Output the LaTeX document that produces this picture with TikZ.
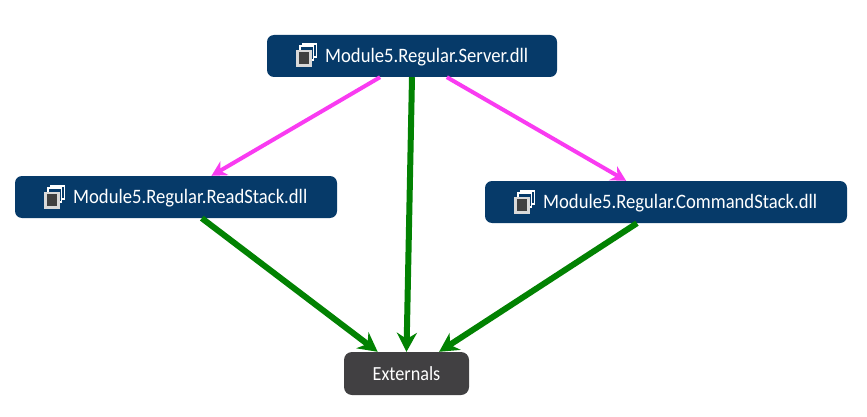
\documentclass[tikz,border=0pt]{standalone}
\usepackage{fontspec}
\setmainfont[FakeStretch=0.91]{Carlito}
\usetikzlibrary{arrows.meta,calc}
\definecolor{dllblue}{HTML}{063A69}
\definecolor{extgrey}{HTML}{414042}
\definecolor{pinkline}{HTML}{F93BF1}
\definecolor{greenline}{HTML}{028202}
\tikzset{
  x=1pt,y=-1pt,
  dll/.style={fill=dllblue,rounded corners=7pt,inner sep=0pt},
  ext/.style={fill=extgrey,rounded corners=8pt,inner sep=0pt,text=white,font=\fontsize{20}{24}\selectfont},
  dlltext/.style={text=white,anchor=west,inner sep=0pt,font=\fontsize{20.5}{24}\selectfont},
  pinkarrow/.style={draw=pinkline,line width=4pt,-{Stealth[length=15pt,width=16pt]}},
  greenarrow/.style={draw=greenline,line width=6pt,-{Stealth[length=19pt,width=20pt]}},
  iconsq/.style={draw=white,fill=dllblue,line width=1.2pt},
}
\newcommand{\dllicon}[2]{%
  \begin{scope}[shift={(#1,#2)}]
    \draw[iconsq] (6,-11) rectangle (19.5,2);
    \draw[iconsq] (3,-9) rectangle (16.5,5);
    \draw[draw=white!85!black,fill=black!75,line width=2.2pt] (0.5,-4) rectangle (13.5,10.5);
  \end{scope}}
\begin{document}
\begin{tikzpicture}
\useasboundingbox (0,0) rectangle (867,417);
\fill[white] (0,0) rectangle (867,417);
\node[dll,minimum width=290pt,minimum height=42pt] (server) at (412,56) {};
\node[dll,minimum width=322pt,minimum height=42pt] (read) at (176,197) {};
\node[dll,minimum width=362pt,minimum height=42pt] (command) at (666,202) {};
\node[ext,minimum width=125pt,minimum height=43pt] (externals) at (406.5,373.5) {Externals};
\node[dlltext] (serverlabel) at (325,57) {Module5.Regular.Server.dll};
\node[dlltext] (readlabel) at (73,198) {Module5.Regular.ReadStack.dll};
\node[dlltext] (commandlabel) at (543,203) {Module5.Regular.CommandStack.dll};
\dllicon{297}{55}
\dllicon{45}{197}
\dllicon{515}{202}
\draw[pinkarrow] ($(server.south west)!0.39!(server.south east)$) -- ($(read.north west)!0.61!(read.north east)$);
\draw[pinkarrow] ($(server.south west)!0.62!(server.south east)$) -- ($(command.north west)!0.39!(command.north east)$);
\draw[greenarrow] (server.south) -- (externals.north);
\draw[greenarrow] ($(read.south west)!0.58!(read.south east)$) -- ($(externals.north west)!0.27!(externals.north east)$);
\draw[greenarrow] ($(command.south west)!0.42!(command.south east)$) -- ($(externals.north west)!0.76!(externals.north east)$);
\end{tikzpicture}
\end{document}
